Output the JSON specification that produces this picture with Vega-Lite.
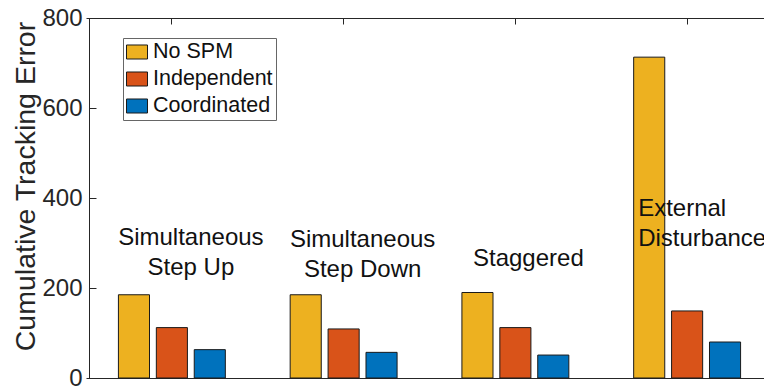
{
  "$schema": "https://vega.github.io/schema/vega-lite/v6.json",
  "width": 675,
  "height": 360,
  "autosize": "none",
  "padding": {"left": 89, "top": 18, "right": 0, "bottom": 14},
  "background": "white",
  "config": {
    "view": {"stroke": null},
    "font": "Liberation Sans",
    "axis": {"grid": false, "domainColor": "#262626", "tickColor": "#262626", "labelColor": "#262626", "titleColor": "#262626", "labelFont": "Liberation Sans", "titleFont": "Liberation Sans", "domainWidth": 1, "tickWidth": 1}
  },
  "datasets": {
    "bars": [
      {"scenario": "Simultaneous Step Up", "method": "No SPM", "error": 185},
      {"scenario": "Simultaneous Step Up", "method": "Independent", "error": 112},
      {"scenario": "Simultaneous Step Up", "method": "Coordinated", "error": 63},
      {"scenario": "Simultaneous Step Down", "method": "No SPM", "error": 185},
      {"scenario": "Simultaneous Step Down", "method": "Independent", "error": 109},
      {"scenario": "Simultaneous Step Down", "method": "Coordinated", "error": 57},
      {"scenario": "Staggered", "method": "No SPM", "error": 190},
      {"scenario": "Staggered", "method": "Independent", "error": 112},
      {"scenario": "Staggered", "method": "Coordinated", "error": 51},
      {"scenario": "External Disturbance", "method": "No SPM", "error": 713},
      {"scenario": "External Disturbance", "method": "Independent", "error": 149},
      {"scenario": "External Disturbance", "method": "Coordinated", "error": 80}
    ],
    "notes": [
      {"scenario": "Simultaneous Step Up", "label": "Simultaneous\nStep Up", "error": 295},
      {"scenario": "Simultaneous Step Down", "label": "Simultaneous\nStep Down", "error": 291},
      {"scenario": "Staggered", "label": "Staggered", "error": 250},
      {"scenario": "External Disturbance", "label": "External\nDisturbance", "error": 361}
    ]
  },
  "layer": [
    {
      "data": {"name": "bars"},
      "mark": {"type": "bar", "stroke": "#1a1a1a", "strokeWidth": 1},
      "encoding": {
        "x": {"field": "scenario", "type": "nominal", "sort": ["Simultaneous Step Up", "Simultaneous Step Down", "Staggered", "External Disturbance"], "scale": {"range": [-3, 684], "paddingInner": 0, "paddingOuter": 0}, "axis": {"orient": "bottom", "labels": false, "title": null, "tickSize": -6, "domain": true}},
        "xOffset": {"field": "method", "type": "nominal", "sort": ["No SPM", "Independent", "Coordinated"], "scale": {"paddingInner": 0.18, "paddingOuter": 0.855}},
        "y": {"field": "error", "type": "quantitative", "scale": {"domain": [0, 800], "nice": false}, "axis": {"values": [0, 200, 400, 600, 800], "tickSize": -7, "labelPadding": 14, "labelFontSize": 24, "title": "Cumulative Tracking Error", "titleFontSize": 28.5, "titleFontWeight": "normal", "titleX": -64, "titleY": 168, "titleAngle": -90, "titleAlign": "center", "titleBaseline": "middle"}},
        "color": {"field": "method", "type": "nominal", "sort": ["No SPM", "Independent", "Coordinated"], "scale": {"domain": ["No SPM", "Independent", "Coordinated"], "range": ["#EDB120", "#D95319", "#0072BD"]},
          "legend": {"orient": "none", "legendX": 34, "legendY": 20, "title": null, "symbolType": "M-1,-0.667H1V0.667H-1Z", "symbolSize": 441, "symbolStrokeColor": "#1a1a1a", "symbolStrokeWidth": 1, "labelFontSize": 21.5, "labelColor": "#111", "labelOffset": 5, "rowPadding": 5, "padding": 3, "strokeColor": "#666", "fillColor": "white", "labelLimit": 300}}
      }
    },
    {
      "data": {"name": "notes"},
      "transform": [{"filter": "datum.scenario == 'Simultaneous Step Up' || datum.scenario == 'Simultaneous Step Down'"}],
      "mark": {"type": "text", "fontSize": 24, "font": "Liberation Sans", "color": "#111", "align": "center", "baseline": "alphabetic", "lineBreak": "\n", "lineHeight": 30, "dx": 19},
      "encoding": {
        "x": {"field": "scenario", "type": "nominal", "sort": ["Simultaneous Step Up", "Simultaneous Step Down", "Staggered", "External Disturbance"], "scale": {"range": [-3, 684], "paddingInner": 0, "paddingOuter": 0}, "axis": {"orient": "top", "labels": false, "title": null, "tickSize": -6, "domain": true}},
        "y": {"field": "error", "type": "quantitative", "scale": {"domain": [0, 800], "nice": false}},
        "text": {"field": "label", "type": "nominal"}
      }
    },
    {
      "data": {"name": "notes"},
      "transform": [{"filter": "datum.scenario == 'Staggered'"}],
      "mark": {"type": "text", "fontSize": 24, "font": "Liberation Sans", "color": "#111", "align": "center", "baseline": "alphabetic", "lineBreak": "\n", "lineHeight": 30, "dx": 13},
      "encoding": {
        "x": {"field": "scenario", "type": "nominal", "sort": ["Simultaneous Step Up", "Simultaneous Step Down", "Staggered", "External Disturbance"], "scale": {"range": [-3, 684], "paddingInner": 0, "paddingOuter": 0}, "axis": null},
        "y": {"field": "error", "type": "quantitative", "scale": {"domain": [0, 800], "nice": false}},
        "text": {"field": "label", "type": "nominal"}
      }
    },
    {
      "data": {"name": "notes"},
      "transform": [{"filter": "datum.scenario == 'External Disturbance'"}],
      "mark": {"type": "text", "fontSize": 24, "font": "Liberation Sans", "color": "#111", "align": "left", "baseline": "alphabetic", "lineBreak": "\n", "lineHeight": 30, "dx": -49},
      "encoding": {
        "x": {"field": "scenario", "type": "nominal", "sort": ["Simultaneous Step Up", "Simultaneous Step Down", "Staggered", "External Disturbance"], "scale": {"range": [-3, 684], "paddingInner": 0, "paddingOuter": 0}, "axis": null},
        "y": {"field": "error", "type": "quantitative", "scale": {"domain": [0, 800], "nice": false}},
        "text": {"field": "label", "type": "nominal"}
      }
    }
  ],
  "resolve": {"axis": {"x": "independent"}}
}
